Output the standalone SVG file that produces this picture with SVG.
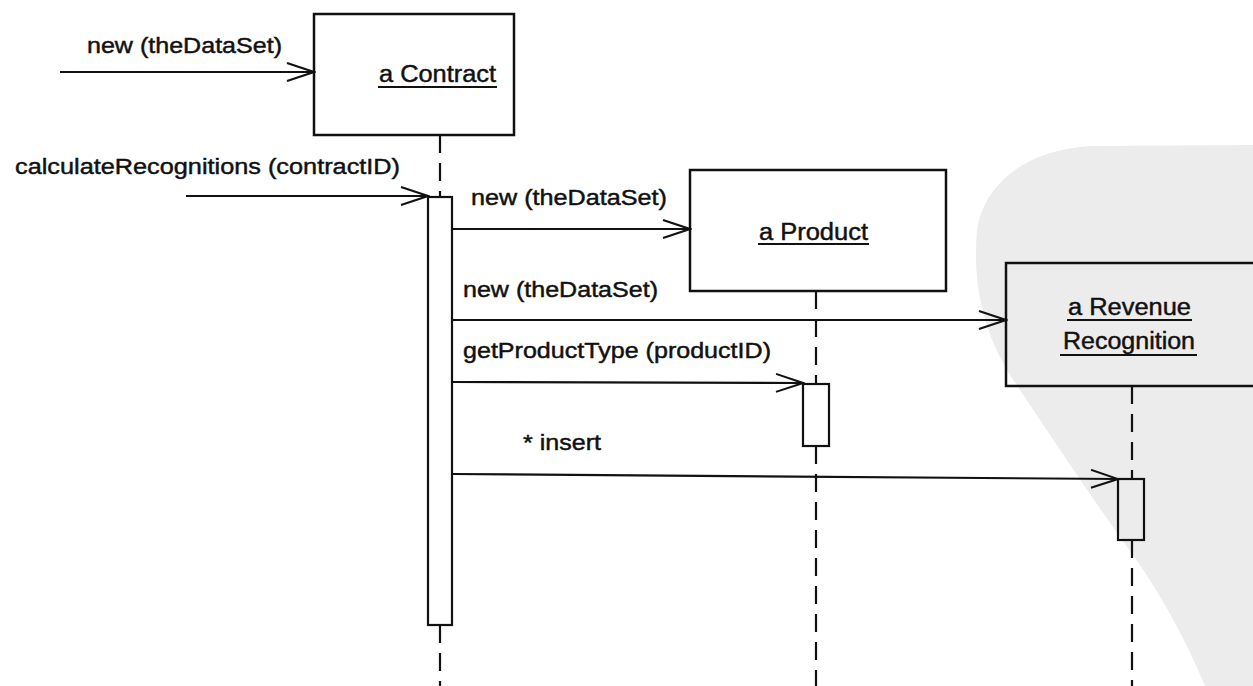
<svg xmlns="http://www.w3.org/2000/svg" width="1253" height="686" viewBox="0 0 1253 686">
<style>
text{font-family:"Liberation Sans",Arial,Helvetica,sans-serif;font-size:22px;fill:#111;stroke:#111;stroke-width:0.45}
.node text{font-size:23px}
.box{fill:#fff;stroke:#111;stroke-width:2.5}
.boxt{fill:none;stroke:#111;stroke-width:2.5}
.ul{stroke:#111;stroke-width:2}
.life{stroke:#111;stroke-width:2.2;stroke-dasharray:18 10;fill:none}
.msg{stroke:#111;stroke-width:2.2;fill:none;marker-end:url(#open)}
.act{fill:#fff;stroke:#111;stroke-width:2.2}
.actt{fill:none;stroke:#111;stroke-width:2.2}
</style>
<defs>
<marker id="open" markerUnits="userSpaceOnUse" markerWidth="30" markerHeight="22" refX="28" refY="10" orient="auto">
<path d="M1,1 L28,10 L1,19" fill="none" stroke="#111" stroke-width="2"/>
</marker>
</defs>
<rect width="1253" height="686" fill="#fff"/>
<path d="M1253,145 L1090,146 C1030,150 985,180 977,230 C972,290 985,340 1020,390 C1060,450 1100,510 1140,565 C1170,610 1190,650 1205,686 L1253,686 Z" fill="#ececec"/>

<g id="lifelines">
<path class="life" d="M440,135 V197 M440,625 V686"/>
<path class="life" d="M816,291 V384 M816,446 V686"/>
<path class="life" d="M1132,386 V479 M1132,540 V686"/>
</g>

<g id="contract" class="node">
<rect class="box" x="314" y="14" width="200" height="121"/>
<text x="379" y="82" textLength="117" lengthAdjust="spacingAndGlyphs">a Contract</text>
<line class="ul" x1="378" y1="87" x2="497" y2="87"/>
<rect class="act" x="428" y="197" width="24" height="428"/>
</g>

<g id="product" class="node">
<rect class="box" x="690" y="170" width="256" height="121"/>
<text x="759" y="240" textLength="109" lengthAdjust="spacingAndGlyphs">a Product</text>
<line class="ul" x1="758" y1="244" x2="869" y2="244"/>
<rect class="act" x="803" y="384" width="26" height="62"/>
</g>

<g id="revenueRecognition" class="node">
<rect class="boxt" x="1006" y="263" width="270" height="123"/>
<text x="1068" y="315" textLength="123" lengthAdjust="spacingAndGlyphs">a Revenue</text>
<line class="ul" x1="1067" y1="320" x2="1192" y2="320"/>
<text x="1063" y="349" textLength="132" lengthAdjust="spacingAndGlyphs">Recognition</text>
<line class="ul" x1="1060" y1="355" x2="1197" y2="355"/>
<rect class="actt" x="1118" y="479" width="26" height="61"/>
</g>

<g id="connectors">
<line class="msg" x1="60" y1="72" x2="314" y2="72"/>
<text x="87" y="53" textLength="195" lengthAdjust="spacingAndGlyphs">new (theDataSet)</text>
<line class="msg" x1="186" y1="196" x2="428" y2="196"/>
<text x="15" y="174" textLength="385" lengthAdjust="spacingAndGlyphs">calculateRecognitions (contractID)</text>
<line class="msg" x1="452" y1="229" x2="690" y2="229"/>
<text x="471" y="205" textLength="196" lengthAdjust="spacingAndGlyphs">new (theDataSet)</text>
<line class="msg" x1="452" y1="320" x2="1006" y2="320"/>
<text x="463" y="297" textLength="195" lengthAdjust="spacingAndGlyphs">new (theDataSet)</text>
<line class="msg" x1="452" y1="382" x2="803" y2="383"/>
<text x="463" y="358" textLength="308" lengthAdjust="spacingAndGlyphs">getProductType (productID)</text>
<line class="msg" x1="452" y1="474" x2="1118" y2="479"/>
<text x="523" y="450" textLength="78" lengthAdjust="spacingAndGlyphs">* insert</text>
</g>
</svg>
